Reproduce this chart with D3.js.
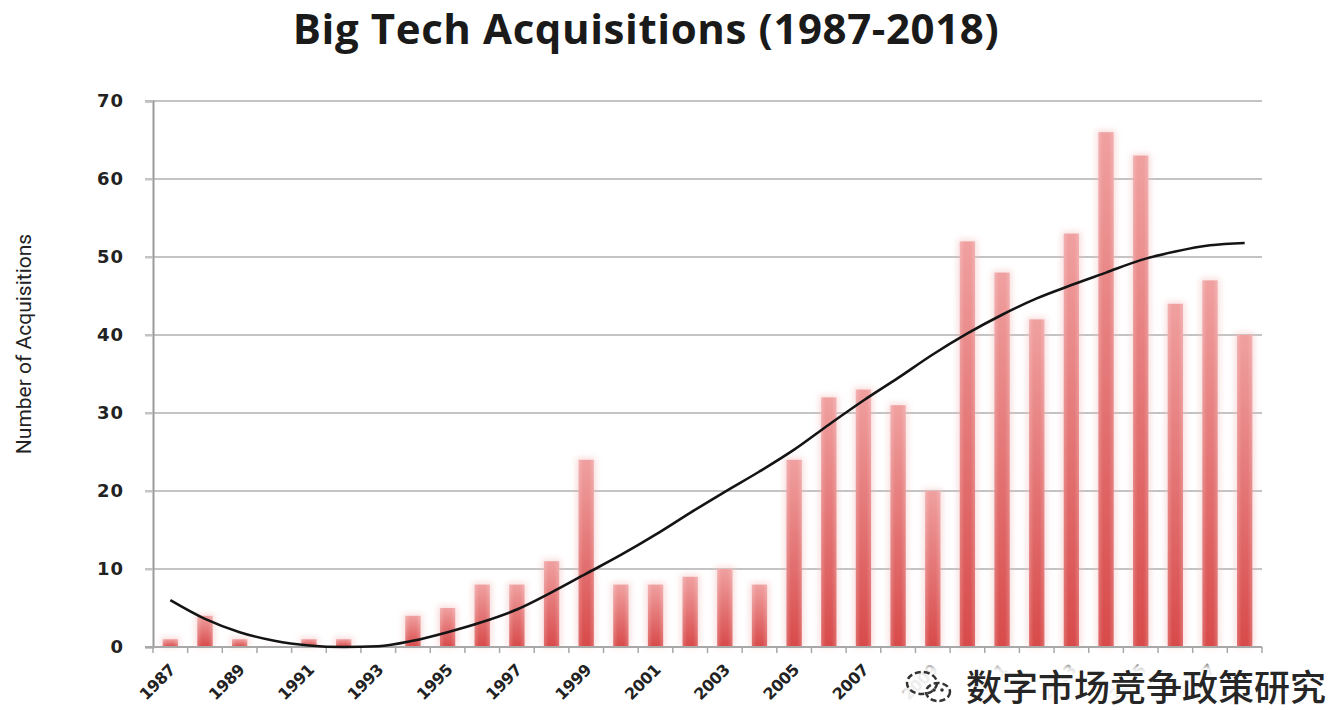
<!DOCTYPE html>
<html>
<head>
<meta charset="utf-8">
<script src="https://cdn.jsdelivr.net/npm/d3@7"></script>
<style>
  html, body { margin: 0; padding: 0; background: #fff; }
  svg { display: block; }
</style>
</head>
<body>
<svg id="chart" width="1331" height="710"></svg>
<script>
// values
const years = d3.range(1987, 2019);
const acquisitions = [1, 4, 1, 0, 1, 1, 0, 4, 5, 8, 8, 11, 24, 8, 8, 9, 10, 8, 24, 32, 33, 31, 20, 52, 48, 42, 53, 66, 63, 44, 47, 40];
// polynomial trend line
const trend = [6.0, 3.6, 1.9, 0.8, 0.2, 0.0, 0.1, 0.8, 1.9, 3.2, 4.8, 7.0, 9.4, 11.8, 14.4, 17.2, 19.9, 22.5, 25.3, 28.5, 31.6, 34.5, 37.5, 40.2, 42.6, 44.7, 46.4, 48.0, 49.6, 50.7, 51.5, 51.8];
const yTicks = [0, 10, 20, 30, 40, 50, 60, 70];
const labelYears = years.filter((y, i) => i % 2 === 0);

const title = "Big Tech Acquisitions (1987-2018)";
const yTitle = "Number of Acquisitions";
const watermark = "数字市场竞争政策研究";

const svg = d3.select("#chart");
const plotLeft = 153, plotRight = 1262, plotTop = 101, plotBottom = 647;

const x = d3.scaleBand()
    .domain(years)
    .range([plotLeft, plotRight])
    .paddingInner(0.56)
    .paddingOuter(0.28);

const y = d3.scaleLinear()
    .domain([0, 70])
    .range([plotBottom, plotTop]);

// gradients for the bars
const defs = svg.append("defs");
const grad = defs.append("linearGradient")
    .attr("id", "barFill")
    .attr("x1", 0).attr("y1", 0).attr("x2", 0).attr("y2", 1);
grad.append("stop").attr("offset", "0%").attr("stop-color", "#f0a0a0");
grad.append("stop").attr("offset", "100%").attr("stop-color", "#d84a4a");

const sheen = defs.append("linearGradient")
    .attr("id", "barSheen")
    .attr("x1", 0).attr("y1", 0).attr("x2", 1).attr("y2", 0);
sheen.append("stop").attr("offset", "0%").attr("stop-color", "#fff").attr("stop-opacity", 0.2);
sheen.append("stop").attr("offset", "30%").attr("stop-color", "#fff").attr("stop-opacity", 0);
sheen.append("stop").attr("offset", "70%").attr("stop-color", "#fff").attr("stop-opacity", 0);
sheen.append("stop").attr("offset", "100%").attr("stop-color", "#fff").attr("stop-opacity", 0.2);

defs.append("filter").attr("id", "soft")
    .attr("x", "-50%").attr("y", "-50%").attr("width", "200%").attr("height", "200%")
    .append("feGaussianBlur").attr("stdDeviation", 3);

// title
svg.append("text")
    .attr("x", 646)
    .attr("y", 44)
    .attr("text-anchor", "middle")
    .style("font-family", "'Open Sans', sans-serif")
    .style("font-weight", 700)
    .style("font-size", "42px")
    .style("letter-spacing", "0.6px")
    .style("fill", "#1a1a1a")
    .text(title);

// gridlines
svg.append("g")
    .selectAll("line")
    .data(yTicks.filter(d => d > 0))
    .join("line")
    .attr("x1", plotLeft - 8)
    .attr("x2", plotRight)
    .attr("y1", d => y(d))
    .attr("y2", d => y(d))
    .style("stroke", "#c4c4c4")
    .style("stroke-width", 2);

// y axis
const yAxis = svg.append("g")
    .attr("transform", `translate(${plotLeft},0)`)
    .call(d3.axisLeft(y).tickValues(yTicks).tickSize(8).tickPadding(21));
yAxis.select(".domain").style("stroke", "#9a9a9a").style("stroke-width", 2);
yAxis.selectAll(".tick line").style("stroke", "#c4c4c4").style("stroke-width", 2);
yAxis.selectAll("text")
    .style("font-family", "'DejaVu Sans', sans-serif")
    .style("font-weight", 700)
    .style("font-size", "18px")
    .style("letter-spacing", "1px")
    .style("fill", "#222");

svg.append("text")
    .attr("transform", "translate(31,344) rotate(-90)")
    .attr("text-anchor", "middle")
    .style("font-family", "'Liberation Sans Narrow', 'Roboto', sans-serif")
    .style("font-size", "21px")
    .style("fill", "#222")
    .text(yTitle);

// bars: soft glow behind, then bar, then side sheen
const bars = svg.append("g");
bars.selectAll("rect.glow")
    .data(years)
    .join("rect")
    .attr("class", "glow")
    .attr("x", d => x(d) - 2)
    .attr("y", (d, i) => y(acquisitions[i]) - 2)
    .attr("width", x.bandwidth() + 4)
    .attr("height", (d, i) => y(0) - y(acquisitions[i]) + 2)
    .style("fill", "#f4b8b8")
    .style("opacity", 0.5)
    .attr("filter", "url(#soft)");

bars.selectAll("rect.bar")
    .data(years)
    .join("rect")
    .attr("class", "bar")
    .attr("x", d => x(d))
    .attr("y", (d, i) => y(acquisitions[i]))
    .attr("width", x.bandwidth())
    .attr("height", (d, i) => y(0) - y(acquisitions[i]))
    .style("fill", "url(#barFill)");

bars.selectAll("rect.sheen")
    .data(years)
    .join("rect")
    .attr("class", "sheen")
    .attr("x", d => x(d))
    .attr("y", (d, i) => y(acquisitions[i]))
    .attr("width", x.bandwidth())
    .attr("height", (d, i) => y(0) - y(acquisitions[i]))
    .style("fill", "url(#barSheen)");

// x axis with ticks at category boundaries
const step = x.step();
const bounds = d3.range(years.length + 1).map(i => plotLeft + i * step);
svg.append("line")
    .attr("x1", plotLeft - 8).attr("x2", plotRight)
    .attr("y1", plotBottom).attr("y2", plotBottom)
    .style("stroke", "#a8a8a8").style("stroke-width", 2);
svg.append("g")
    .selectAll("line")
    .data(bounds)
    .join("line")
    .attr("x1", d => d).attr("x2", d => d)
    .attr("y1", plotBottom).attr("y2", plotBottom + 6)
    .style("stroke", "#a8a8a8").style("stroke-width", 1.5);

svg.append("g")
    .selectAll("text")
    .data(labelYears)
    .join("text")
    .attr("transform", d => `translate(${x(d) + x.bandwidth() / 2 + 2},667) rotate(-45)`)
    .attr("text-anchor", "end")
    .attr("dy", "0.35em")
    .style("font-family", "'DejaVu Sans', sans-serif")
    .style("font-weight", 700)
    .style("font-size", "16px")
    .style("letter-spacing", "-0.5px")
    .style("fill", "#222")
    .text(d => d);

// trend line
const line = d3.line()
    .x((d, i) => x(years[i]) + x.bandwidth() / 2)
    .y(d => y(d))
    .curve(d3.curveMonotoneX);
svg.append("path")
    .datum(trend)
    .attr("d", line)
    .style("fill", "none")
    .style("stroke", "#141414")
    .style("stroke-width", 2.6);

// watermark over the lower right corner
svg.append("rect")
    .attr("x", 900).attr("y", 664).attr("width", 440).attr("height", 60)
    .style("fill", "#fff")
    .style("opacity", 0.92)
    .attr("filter", "url(#soft)");

const icon = svg.append("g")
    .attr("transform", "translate(928,687)")
    .style("fill", "none")
    .style("stroke", "#333")
    .style("stroke-width", 2.5)
    .style("stroke-dasharray", "6,3");
icon.append("ellipse").attr("cx", -6).attr("cy", -4).attr("rx", 15).attr("ry", 11);
icon.append("ellipse").attr("cx", 10).attr("cy", 5).attr("rx", 12).attr("ry", 9);
icon.append("circle").attr("cx", 6).attr("cy", 3).attr("r", 1.8).style("fill", "#333").style("stroke", "none");
icon.append("circle").attr("cx", 14).attr("cy", 3).attr("r", 1.8).style("fill", "#333").style("stroke", "none");

svg.append("text")
    .attr("x", 966)
    .attr("y", 701)
    .style("font-family", "'Noto Sans CJK SC', sans-serif")
    .style("font-weight", 500)
    .style("font-size", "36px")
    .style("fill", "#262626")
    .style("stroke", "#fff")
    .style("stroke-width", 3)
    .style("paint-order", "stroke")
    .text(watermark);
</script>
</body>
</html>
